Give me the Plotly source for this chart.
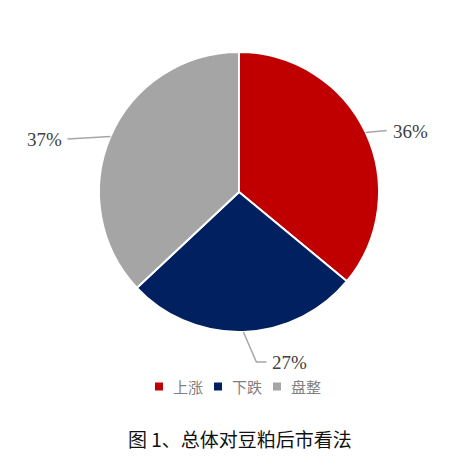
import math
import plotly.graph_objects as go

labels = ["上涨", "下跌", "盘整"]
values = [36, 27, 37]
colors = ["#C00000", "#002060", "#A5A5A5"]
title_text = "图 1、总体对豆粕后市看法"

W, H = 453, 466
OFF = 8  # page body margin
cx, cy, R = 239, 192, 140


def px(x):
    return (x - OFF) / W


def py(y):
    return 1 - (y - OFF) / H


fig = go.Figure()
fig.add_trace(go.Pie(
    labels=labels, values=values, sort=False, direction="clockwise",
    rotation=0, textinfo="none", hoverinfo="label+percent",
    marker=dict(colors=colors, line=dict(color="white", width=2)),
    domain=dict(x=[px(cx - R), px(cx + R)], y=[py(cy + R), py(cy - R)]),
    showlegend=False,
))

# leader line bends (pixel offsets from slice edge) and label side
leader = [
    [(21, -2)],
    [(13, 30), (23, 30)],
    [(-43, 2.5)],
]
text_side = ["left", "left", "right"]

total = sum(values)
shapes, annotations = [], []
start = 0
for v, pts, side in zip(values, leader, text_side):
    mid = (start + v / 2) / total * 2 * math.pi
    start += v
    ex = cx + R * math.sin(mid)
    ey = cy - R * math.cos(mid)
    path = f"M {px(ex)} {py(ey)}"
    lx, ly = ex, ey
    for dx, dy in pts:
        lx, ly = ex + dx, ey + dy
        path += f" L {px(lx)} {py(ly)}"
    shapes.append(dict(type="path", path=path, xref="paper", yref="paper",
                       line=dict(color="#A6A6A6", width=1.5)))
    annotations.append(dict(
        x=px(lx + (4 if side == "left" else -4)), y=py(ly + 1),
        xref="paper", yref="paper", showarrow=False,
        text=f"{round(v / total * 100)}%", xanchor=side, yanchor="middle",
        font=dict(family="Liberation Serif", size=19, color="#404040"),
    ))

# custom legend
leg_x = [159, 218, 277]
leg_y = 386.5
for lab, col, x0 in zip(labels, colors, leg_x):
    shapes.append(dict(type="rect", xref="paper", yref="paper",
                       x0=px(x0 - 4), x1=px(x0 + 4), y0=py(leg_y + 4), y1=py(leg_y - 4),
                       fillcolor=col, line=dict(width=0)))
    annotations.append(dict(
        x=px(x0 + 12), y=py(leg_y), xref="paper", yref="paper", showarrow=False,
        text=lab, xanchor="left", yanchor="middle",
        font=dict(family="Noto Sans CJK SC", size=15, color="#808080"),
    ))

annotations.append(dict(
    x=px(240), y=py(438), xref="paper", yref="paper", showarrow=False,
    text=title_text, xanchor="center", yanchor="middle",
    font=dict(family="Noto Sans CJK SC", size=19, color="#111111"),
))

fig.update_layout(
    width=W, height=H, margin=dict(l=0, r=0, t=0, b=0),
    paper_bgcolor="white", plot_bgcolor="white",
    shapes=shapes, annotations=annotations,
    showlegend=False,
)

fig.write_html("out.html")
